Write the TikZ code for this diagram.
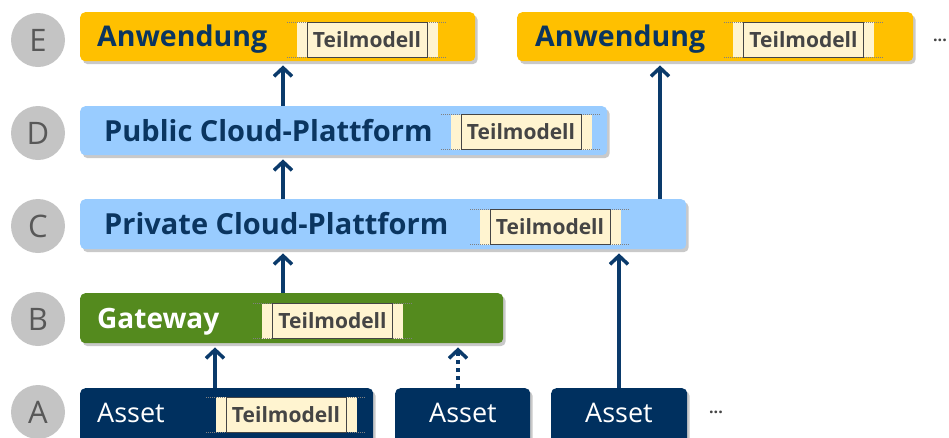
\documentclass[tikz,border=0pt]{standalone}
\usepackage{fontspec}
\setmainfont{Open Sans}
\usetikzlibrary{arrows.meta,shadows}
\definecolor{orangeE}{HTML}{FFC000}
\definecolor{blueCD}{HTML}{99CCFF}
\definecolor{greenB}{HTML}{548A1E}
\definecolor{navyA}{HTML}{00305F}
\definecolor{navyT}{HTML}{0A3560}
\definecolor{creamT}{HTML}{FFF4D0}
\definecolor{greyC}{HTML}{C4C4C4}
\definecolor{greyL}{HTML}{454545}
\definecolor{arrowC}{HTML}{0A3A6B}
\tikzset{
  layerbox/.style={rectangle, rounded corners=5pt, inner sep=0pt, anchor=north west,
    drop shadow={shadow xshift=2.5pt, shadow yshift=-3pt, opacity=0.3, fill=black!70}},
  boxE/.style={layerbox, fill=orangeE},
  boxCD/.style={layerbox, fill=blueCD},
  boxB/.style={layerbox, fill=greenB},
  boxA/.style={layerbox, fill=navyA},
  lblbold/.style={anchor=base west, inner sep=0pt, text=navyT, font=\bfseries\fontsize{28.5}{28.5}\selectfont},
  lblcloud/.style={lblbold, font=\bfseries\fontsize{29}{29}\selectfont},
  lblwhite/.style={anchor=base west, inner sep=0pt, text=white, font=\bfseries\fontsize{28}{28}\selectfont},
  lblasset/.style={inner sep=0pt, text=white, font=\fontsize{27}{27}\selectfont},
  creamrect/.style={rectangle, fill=creamT, minimum width=141pt, minimum height=35pt, inner sep=0pt},
  teilbox/.style={rectangle, draw=greyL, line width=0.9pt, fill=creamT, minimum width=120pt,
    minimum height=35pt, inner sep=0pt, text=greyL, font=\bfseries\fontsize{21}{21}\selectfont},
  dotline/.style={draw=gray, line width=0.6pt, dash pattern=on 1pt off 1pt},
  letterc/.style={circle, fill=greyC, minimum size=54pt, inner sep=0pt, text=greyL!90,
    font=\fontsize{31}{31}\selectfont},
  arr/.style={draw=arrowC, line width=3.5pt, -{Straight Barb[length=8.5pt,width=18pt]}, shorten >=4pt},
  arrdot/.style={arr, dash pattern=on 4pt off 4pt},
  moredots/.style={inner sep=0pt, text=greyL, font=\bfseries\fontsize{16}{16}\selectfont}
}
\newcommand\teilm[3]{%
  \node[creamrect] (#1c) at (#2,#3) {};
  \draw[dotline] ([xshift=-9pt]#1c.north west) -- ([xshift=9pt]#1c.north east);
  \draw[dotline] ([xshift=-9pt]#1c.south west) -- ([xshift=9pt]#1c.south east);
  \node[teilbox] (#1) at (#2,#3) {Teilmodell};
}
\begin{document}
\begin{tikzpicture}[x=1pt,y=-1pt]
\useasboundingbox (0,0) rectangle (949,437);
% letters
\node[letterc] (cE) at (38,40) {E};
\node[letterc] (cD) at (38,133) {D};
\node[letterc] (cC) at (38,226) {C};
\node[letterc] (cB) at (38,319) {B};
\node[letterc] (cA) at (38,412) {A};
% boxes
\node[boxE, minimum width=395pt, minimum height=49pt] (E1) at (80,12) {};
\node[boxE, minimum width=396pt, minimum height=49pt] (E2) at (517,12) {};
\node[boxCD, minimum width=527pt, minimum height=49pt] (D) at (80,106) {};
\node[boxCD, minimum width=606pt, minimum height=50pt] (C) at (80,199) {};
\node[boxB, minimum width=423pt, minimum height=50pt] (B) at (80,293) {};
\node[boxA, minimum width=293pt, minimum height=62pt] (A1) at (80,388) {};
\node[boxA, minimum width=135pt, minimum height=62pt] (A2) at (395,388) {};
\node[boxA, minimum width=136pt, minimum height=62pt] (A3) at (551,388) {};
% labels
\node[lblbold] (tE1) at (97,46) {Anwendung};
\node[lblbold] (tE2) at (535,46) {Anwendung};
\node[lblcloud] (tD) at (104,141) {Public Cloud-Plattform};
\node[lblcloud] (tC) at (104,234) {Private Cloud-Plattform};
\node[lblwhite] (tB) at (97,328) {Gateway};
\node[lblasset, anchor=base west] (tA1) at (97,422) {Asset};
\node[lblasset, anchor=base] (tA2) at (463,422) {Asset};
\node[lblasset, anchor=base] (tA3) at (619,422) {Asset};
\node[moredots] (m1) at (940,40) {...};
\node[moredots] (m2) at (716,412) {...};
% Teilmodell icons
\teilm{tmE1}{367}{39.5}
\teilm{tmE2}{803.5}{39.5}
\teilm{tmD}{521}{132}
\teilm{tmC}{550}{227}
\teilm{tmB}{332.5}{321}
\teilm{tmA}{286}{414.5}
% arrow columns
\coordinate (xa) at (283,0);
\coordinate (xb) at (215,0);
\coordinate (xc) at (458,0);
\coordinate (xd) at (619,0);
\coordinate (xe) at (660,0);
\draw[arr] (D.north -| xa) -- (E1.south -| xa);
\draw[arr] (C.north -| xa) -- (D.south -| xa);
\draw[arr] (B.north -| xa) -- (C.south -| xa);
\draw[arr] (A1.north -| xb) -- (B.south -| xb);
\draw[arrdot] (A2.north -| xc) -- (B.south -| xc);
\draw[arr] (A3.north -| xd) -- (C.south -| xd);
\draw[arr] (C.north -| xe) -- (E2.south -| xe);
\end{tikzpicture}
\end{document}
